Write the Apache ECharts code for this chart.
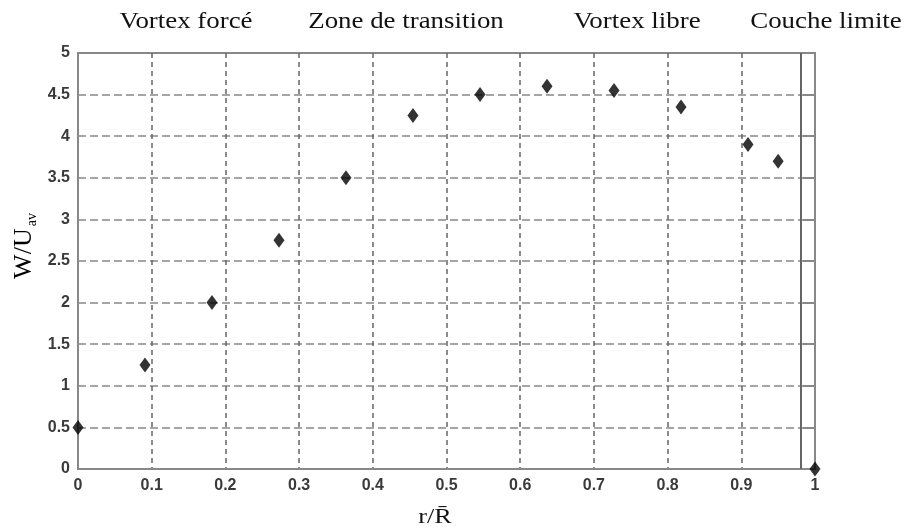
<!DOCTYPE html>
<html><head><meta charset="utf-8">
<script src="https://cdn.jsdelivr.net/npm/echarts@6/dist/echarts.min.js"></script>
<style>html,body{margin:0;padding:0;background:#fff}#c{width:910px;height:531px}</style>
</head><body><div id="c"></div><script>
// Data
const rValues = [0, 0.0909, 0.1818, 0.2727, 0.3636, 0.4545, 0.5455, 0.6364, 0.7273, 0.8182, 0.9091, 0.95, 1];
const wValues = [0.5, 1.25, 2, 2.75, 3.5, 4.25, 4.5, 4.6, 4.55, 4.35, 3.9, 3.7, 0];
const zoneLabels = ['Vortex forcé', 'Zone de transition', 'Vortex libre', 'Couche limite'];
const boundaryLayerR = 0.985;
const xName = 'r/R\u0304';
const yNameMain = 'W/U';
const yNameSub = 'av';

// Layout (pixel centres of the zone captions)
const zoneLabelX = [186, 406, 637, 826];

const chart = echarts.init(document.getElementById('c'), null, {renderer: 'canvas'});
const pts = rValues.map((r, i) => [r, wValues[i]]);
const tickFont = {fontFamily: 'Liberation Sans', fontWeight: 'bold', fontSize: 16, color: '#3a3a3a'};
const serif = 'Liberation Serif';

const graphics = zoneLabels.map((t, i) => ({
  type: 'text', x: zoneLabelX[i], y: 22, scaleX: 1.12,
  style: {text: t, font: '24px "' + serif + '"', fill: '#111', align: 'center', verticalAlign: 'middle'}
}));
graphics.push({
  type: 'text', x: 24, y: 246, rotation: Math.PI / 2,
  style: {
    text: '{a|' + yNameMain + '}{b|' + yNameSub + '}',
    align: 'center', verticalAlign: 'middle',
    rich: {
      a: {fontFamily: serif, fontSize: 26, color: '#111', lineHeight: 30, verticalAlign: 'middle'},
      b: {fontFamily: serif, fontSize: 14, color: '#111', lineHeight: 30, verticalAlign: 'bottom', padding: [0, 0, 0, 2]}
    }
  }
});
graphics.push({
  type: 'text', x: 435, y: 517, scaleX: 1.25,
  style: {text: xName, font: '21px "' + serif + '"', fill: '#111', align: 'center', verticalAlign: 'middle'}
});

chart.setOption({
  animation: false,
  backgroundColor: '#fff',
  grid: {left: 78, right: 95, top: 53, bottom: 62, show: true, borderColor: '#888', borderWidth: 2},
  xAxis: {
    type: 'value', min: 0, max: 1, interval: 0.1,
    axisLine: {show: true, lineStyle: {color: '#888', width: 2}},
    axisTick: {show: false},
    axisLabel: Object.assign({margin: 9}, tickFont),
    splitLine: {show: true, lineStyle: {color: '#666', width: 1.5, type: [5, 4]}}
  },
  yAxis: [{
    type: 'value', min: 0, max: 5, interval: 0.5,
    axisLine: {show: true, lineStyle: {color: '#888', width: 2}},
    axisTick: {show: false},
    axisLabel: Object.assign({margin: 8}, tickFont),
    splitLine: {show: true, lineStyle: {color: '#888', width: 1.5, type: [8, 4]}}
  }, {
    type: 'value', min: 0, max: 5, interval: 0.5, position: 'right',
    axisLine: {show: true, lineStyle: {color: '#888', width: 2}},
    axisTick: {show: true, inside: true, length: 12, lineStyle: {color: '#888', width: 2}},
    axisLabel: {show: false},
    splitLine: {show: false}
  }],
  graphic: graphics,
  series: [{
    type: 'scatter', data: pts, yAxisIndex: 0,
    symbol: 'diamond', symbolSize: [11, 15], clip: false,
    itemStyle: {color: '#000'},
    markLine: {
      silent: true, symbol: 'none', label: {show: false},
      lineStyle: {color: '#666', width: 2, type: 'solid'},
      data: [{xAxis: boundaryLayerR}]
    }
  }]
});
</script></body></html>
